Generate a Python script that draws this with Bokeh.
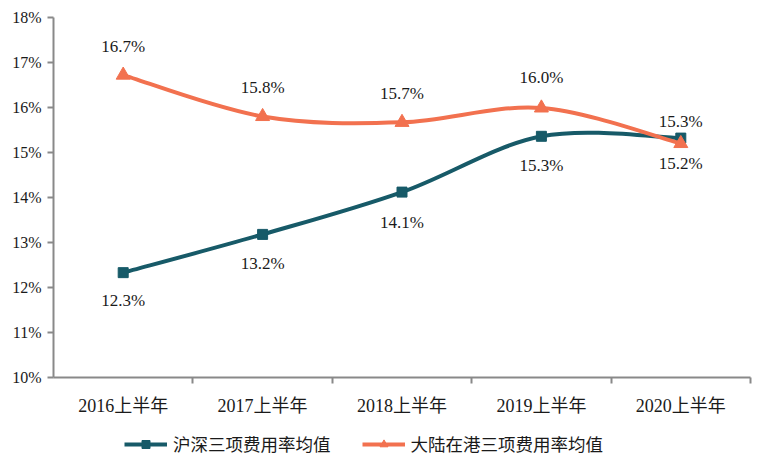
from bokeh.plotting import figure
from bokeh.layouts import column
from bokeh.models import (Range1d, FixedTicker, Legend, LegendItem, ColumnDataSource,
                          NumeralTickFormatter)
from bokeh.embed import file_html
from bokeh.resources import INLINE
from bokeh.core.properties import value

categories = ["2016上半年", "2017上半年", "2018上半年", "2019上半年", "2020上半年"]
hs_name = "沪深三项费用率均值"
hs_values = [12.33, 13.18, 14.12, 15.36, 15.32]
hs_labels = ["12.3%", "13.2%", "14.1%", "15.3%", "15.3%"]
hk_name = "大陆在港三项费用率均值"
hk_values = [16.72, 15.8, 15.67, 15.99, 15.2]
hk_labels = ["16.7%", "15.8%", "15.7%", "16.0%", "15.2%"]
y_ticks = [10, 11, 12, 13, 14, 15, 16, 17, 18]

TEAL = "#175a68"
ORANGE = "#f2714f"
FONT = "Liberation Serif, Noto Sans CJK SC"
TXT = "#1a1a1a"
AX = "#898989"

xs = list(range(len(categories)))

p = figure(width=760, height=418, output_backend="svg", toolbar_location=None,
           x_range=Range1d(-0.5, 4.5), y_range=Range1d(10, 18),
           min_border_left=53, min_border_right=10, min_border_top=17, min_border_bottom=34)
p.outline_line_color = None
p.xgrid.visible = False
p.ygrid.visible = False


def smooth(x, y):
    n = len(x)
    P = list(zip(x, y))
    segs = {k: [] for k in ["x0", "y0", "x1", "y1", "cx0", "cy0", "cx1", "cy1"]}
    for i in range(n - 1):
        p0 = P[i - 1] if i > 0 else P[i]
        p1 = P[i]
        p2 = P[i + 1]
        p3 = P[i + 2] if i + 2 < n else P[i + 1]
        segs["x0"].append(p1[0]); segs["y0"].append(p1[1])
        segs["x1"].append(p2[0]); segs["y1"].append(p2[1])
        segs["cx0"].append(p1[0] + (p2[0] - p0[0]) / 6)
        segs["cy0"].append(p1[1] + (p2[1] - p0[1]) / 6)
        segs["cx1"].append(p2[0] - (p3[0] - p1[0]) / 6)
        segs["cy1"].append(p2[1] - (p3[1] - p1[1]) / 6)
    return ColumnDataSource(segs)


p.bezier(x0="x0", y0="y0", x1="x1", y1="y1", cx0="cx0", cy0="cy0", cx1="cx1", cy1="cy1",
         source=smooth(xs, hs_values), line_color=TEAL, line_width=4)
p.scatter(xs, hs_values, marker="square", size=10, color=TEAL)
p.bezier(x0="x0", y0="y0", x1="x1", y1="y1", cx0="cx0", cy0="cy0", cx1="cx1", cy1="cy1",
         source=smooth(xs, hk_values), line_color=ORANGE, line_width=4)
p.scatter(xs, hk_values, marker="triangle", size=14, color=ORANGE)

# value labels (screen y_offset: positive = down)
hs_off = [28, 29, 30, 29, -17]
hk_off = [-29, -29, -29, -30, 20]
p.text(xs, hs_values, text=hs_labels, y_offset=hs_off, text_align="center",
       text_baseline="middle", text_font=value(FONT), text_font_size="17px", text_color=TXT)
p.text(xs, hk_values, text=hk_labels, y_offset=hk_off, text_align="center",
       text_baseline="middle", text_font=value(FONT), text_font_size="17px", text_color=TXT)

# axes
p.yaxis.ticker = FixedTicker(ticks=y_ticks)
p.yaxis.formatter = NumeralTickFormatter(format="0")
p.yaxis.major_label_overrides = {t: f"{t}%" for t in y_ticks}
p.yaxis.major_tick_in = 0
p.yaxis.major_tick_out = 6
p.yaxis.minor_tick_line_color = None
p.yaxis.axis_line_color = AX
p.yaxis.major_tick_line_color = AX
p.yaxis.axis_line_width = 2
p.yaxis.major_tick_line_width = 2
p.yaxis.major_label_text_font = FONT
p.yaxis.major_label_text_font_size = "16px"
p.yaxis.major_label_text_color = TXT
p.yaxis.major_label_standoff = 6

p.xaxis.ticker = FixedTicker(ticks=xs, minor_ticks=[0.5, 1.5, 2.5, 3.5, 4.5])
p.xaxis.major_label_overrides = {i: c for i, c in enumerate(categories)}
p.xaxis.major_tick_in = 0
p.xaxis.major_tick_out = 0
p.xaxis.minor_tick_in = 0
p.xaxis.minor_tick_out = 6
p.xaxis.minor_tick_line_color = AX
p.xaxis.minor_tick_line_width = 2
p.xaxis.axis_line_color = AX
p.xaxis.axis_line_width = 2
p.xaxis.major_label_text_font = FONT
p.xaxis.major_label_text_font_size = "18px"
p.xaxis.major_label_text_color = TXT
p.xaxis.major_label_standoff = 12

# legend strip below the chart
lg = figure(width=760, height=42, output_backend="svg", toolbar_location=None,
            x_range=Range1d(10, 11), y_range=Range1d(10, 11),
            x_axis_location=None, y_axis_location=None,
            min_border_left=0, min_border_right=0, min_border_top=0, min_border_bottom=0)
lg.outline_line_color = None
lg.xgrid.visible = False
lg.ygrid.visible = False
l1 = lg.line([0, 1], [0, 0], line_color=TEAL, line_width=4)
m1 = lg.scatter([0], [0], marker="square", size=10, color=TEAL)
l2 = lg.line([0, 1], [0, 0], line_color=ORANGE, line_width=4)
m2 = lg.scatter([0], [0], marker="triangle", size=14, color=ORANGE)

legend = Legend(items=[LegendItem(label=hs_name, renderers=[l1, m1]),
                       LegendItem(label=hk_name, renderers=[l2, m2])],
                orientation="horizontal", location=(71, 4))
legend.label_text_font = FONT
legend.label_text_font_size = "17.5px"
legend.label_text_color = TXT
legend.glyph_width = 43
legend.label_standoff = 6
legend.spacing = 31
legend.border_line_color = None
legend.background_fill_alpha = 0
legend.padding = 4
lg.add_layout(legend, "center")

layout = column(p, lg, spacing=0)
open("out.html", "w").write(file_html(layout, INLINE))
